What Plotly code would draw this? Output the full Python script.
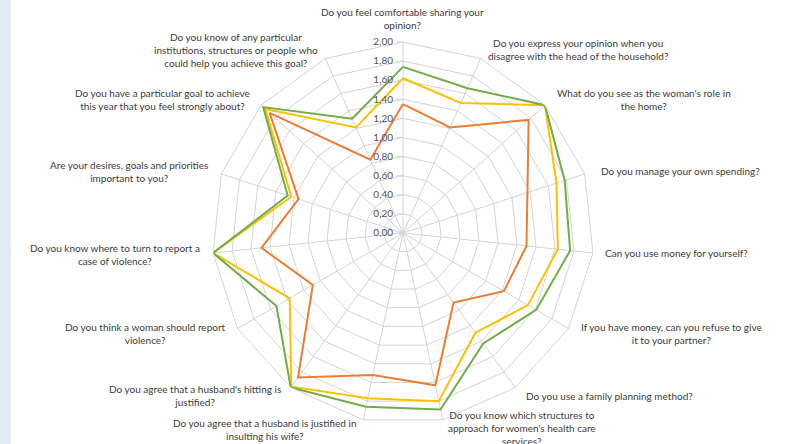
import plotly.graph_objects as go

# Survey questions, one spoke each, clockwise from the top
questions = [
    "Do you feel comfortable sharing your<br>opinion?",
    "Do you express your opinion when you<br>disagree with the head of the household?",
    "What do you see as the woman's role in<br>the home?",
    "Do you manage your own spending?",
    "Can you use money for yourself?",
    "If you have money, can you refuse to give<br>it to your partner?",
    "Do you use a family planning method?",
    "Do you know which structures to<br>approach for women's health care<br>services?",
    "Do you agree that a husband is justified in<br>insulting his wife?",
    "Do you agree that a husband's hitting is<br>justified?",
    "Do you think a woman should report<br>violence?",
    "Do you know where to turn to report a<br>case of violence?",
    "Are your desires, goals and priorities<br>important to you?",
    "Do you have a particular goal to achieve<br>this year that you feel strongly about?",
    "Do you know of any particular<br>institutions, structures or people who<br>could help you achieve this goal?",
]

# Mean scores (0-2) per question for the three series
series_orange = [1.35, 1.21, 1.77, 1.37, 1.30, 1.22, 0.90, 1.63, 1.52, 1.87, 1.09, 1.49, 1.15, 1.88, 0.84]
series_yellow = [1.62, 1.49, 2.00, 1.69, 1.63, 1.51, 1.29, 1.80, 1.77, 1.99, 1.37, 2.00, 1.23, 1.94, 1.21]
series_green = [1.74, 1.66, 2.00, 1.78, 1.76, 1.61, 1.43, 1.89, 1.86, 2.00, 1.53, 2.00, 1.27, 1.97, 1.31]

radial_ticks = [0.0, 0.2, 0.4, 0.6, 0.8, 1.0, 1.2, 1.4, 1.6, 1.8, 2.0]

# Label placement around the web (pixel centre of each text block)
label_px = [
    (402, 18), (578, 50), (644, 99.5), (680, 171), (676, 253),
    (671, 333.5), (609, 396), (522, 428), (265, 429.5), (195, 395.5),
    (145, 333.5), (115, 254.5), (129, 171.5), (162, 99.5), (236, 50),
]

W, H = 793, 444
keys = [f"q{i}" for i in range(len(questions))]

def closed(v):
    return v + v[:1]

fig = go.Figure()
for name, vals, color in [
    ("Series 1", series_orange, "#ED7D31"),
    ("Series 2", series_yellow, "#FFC000"),
    ("Series 3", series_green, "#70AD47"),
]:
    fig.add_trace(go.Scatterpolar(
        r=closed(vals),
        theta=closed(keys),
        mode="lines",
        name=name,
        line=dict(color=color, width=2),
        showlegend=False,
        hoverinfo="skip",
    ))

grid = "#d4d4d4"
cx, cy, rad = 403, 233, 191
fig.update_layout(
    width=W,
    height=H,
    margin=dict(l=0, r=0, t=0, b=0),
    paper_bgcolor="white",
    plot_bgcolor="white",
    separators=", ",
    showlegend=False,
    polar=dict(
        domain=dict(x=[(cx - rad) / W, (cx + rad) / W],
                    y=[(H - cy - rad) / H, (H - cy + rad) / H]),
        bgcolor="white",
        gridshape="linear",
        angularaxis=dict(
            type="category",
            categoryorder="array",
            categoryarray=keys,
            rotation=90,
            direction="clockwise",
            showticklabels=False,
            ticks="",
            showgrid=True,
            gridcolor=grid,
            gridwidth=1,
            showline=True,
            linecolor=grid,
            linewidth=1,
        ),
        radialaxis=dict(
            range=[0, 2],
            tickvals=radial_ticks,
            tickformat=".2f",
            angle=90,
            tickangle=90,
            side="counterclockwise",
            showgrid=True,
            gridcolor=grid,
            gridwidth=1,
            showline=False,
            ticks="outside",
            ticklen=6,
            tickcolor=grid,
            tickwidth=1,
            tickfont=dict(family="Lato, 'Liberation Sans', sans-serif", size=10, color="#555555"),
        ),
    ),
    shapes=[dict(type="rect", xref="paper", yref="paper", x0=0, x1=11 / W, y0=0, y1=1,
                 fillcolor="#E3EAF6", line=dict(width=0), layer="below")],
)

for text, (px, py) in zip(questions, label_px):
    fig.add_annotation(
        text=text, xref="paper", yref="paper",
        x=px / W, y=1 - py / H, xanchor="center", yanchor="middle",
        align="center", showarrow=False,
        font=dict(family="Lato, 'Liberation Sans', sans-serif", size=10, color="#3c3c3c"),
    )

fig.write_html("out.html")
